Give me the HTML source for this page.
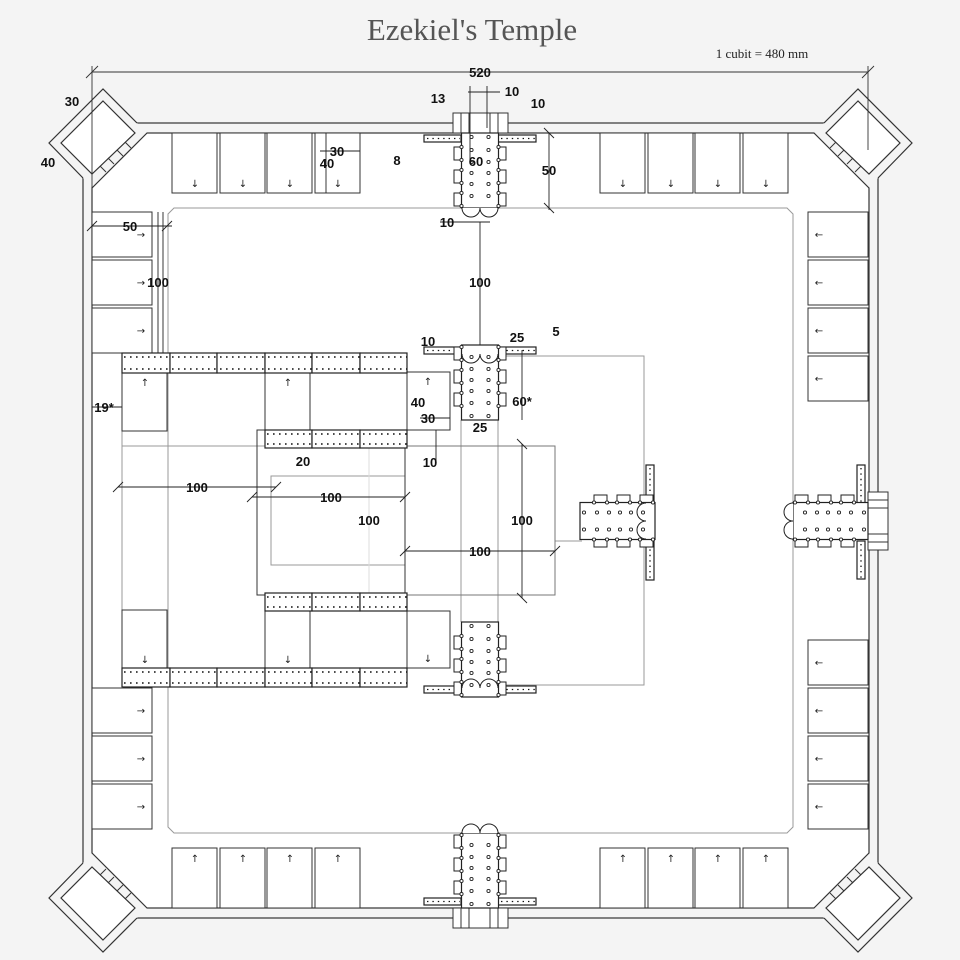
<!DOCTYPE html>
<html><head><meta charset="utf-8"><style>
html,body{margin:0;padding:0;background:#f4f4f4}
svg{display:block}
.t{font-family:"Liberation Sans",sans-serif;font-weight:bold;font-size:13px;fill:#111;text-anchor:middle}
.a{font-family:"DejaVu Sans",sans-serif;font-size:10px;fill:#222;text-anchor:middle}
</style></head><body>
<svg width="960" height="960" viewBox="0 0 960 960" xmlns="http://www.w3.org/2000/svg">
<defs>
<g id="gbody">
<rect x="-26" y="14" width="8" height="13" fill="#fff" stroke="#222"/>
<rect x="-26" y="37" width="8" height="13" fill="#fff" stroke="#222"/>
<rect x="-26" y="60" width="8" height="13" fill="#fff" stroke="#222"/>
<rect x="18" y="14" width="8" height="13" fill="#fff" stroke="#222"/>
<rect x="18" y="37" width="8" height="13" fill="#fff" stroke="#222"/>
<rect x="18" y="60" width="8" height="13" fill="#fff" stroke="#222"/>
<rect x="-18.5" y="0" width="37" height="75" fill="#fff" stroke="#222" stroke-width="1.2"/>
<g fill="#fff" stroke="#222" stroke-width="0.9">
<circle cx="-8.5" cy="4" r="1.6"/><circle cx="8.5" cy="4" r="1.6"/>
<circle cx="-8.5" cy="17" r="1.6"/><circle cx="8.5" cy="17" r="1.6"/>
<circle cx="-8.5" cy="29" r="1.6"/><circle cx="8.5" cy="29" r="1.6"/>
<circle cx="-8.5" cy="40" r="1.6"/><circle cx="8.5" cy="40" r="1.6"/>
<circle cx="-8.5" cy="51" r="1.6"/><circle cx="8.5" cy="51" r="1.6"/>
<circle cx="-8.5" cy="63" r="1.6"/><circle cx="8.5" cy="63" r="1.6"/>
<circle cx="-18.5" cy="14" r="1.6"/><circle cx="18.5" cy="14" r="1.6"/>
<circle cx="-18.5" cy="27" r="1.6"/><circle cx="18.5" cy="27" r="1.6"/>
<circle cx="-18.5" cy="37" r="1.6"/><circle cx="18.5" cy="37" r="1.6"/>
<circle cx="-18.5" cy="50" r="1.6"/><circle cx="18.5" cy="50" r="1.6"/>
<circle cx="-18.5" cy="60" r="1.6"/><circle cx="18.5" cy="60" r="1.6"/>
<circle cx="-18.5" cy="73" r="1.6"/><circle cx="18.5" cy="73" r="1.6"/>
</g>
</g>
<g id="gout"><use href="#gbody"/>
<path d="M-18 75 A9 9 0 0 0 0 75 A9 9 0 0 0 18 75" fill="#fff" stroke="#222"/></g>
<g id="gin"><use href="#gbody"/>
<path d="M-18 66 A9 9 0 0 1 0 66 A9 9 0 0 1 18 66" fill="none" stroke="#222"/></g>
<g id="corner">
<polygon points="83,178 49,143 103,89 137,123 147,133 92,188" fill="#f4f4f4"/>
<polyline points="83,178 49,143 103,89 137,123" fill="none" stroke="#333" stroke-width="1.2"/>
<line x1="147" y1="133" x2="92" y2="188" stroke="#333" stroke-width="1.2"/>
<polygon points="103,101 135,133 92,174 61,143" fill="#fff" stroke="#333" stroke-width="1.2"/>
<g stroke="#333" stroke-width="1"><line x1="100" y1="166" x2="106" y2="172"/><line x1="108" y1="158" x2="114" y2="164"/><line x1="117" y1="150" x2="123" y2="156"/><line x1="125" y1="142" x2="131" y2="148"/></g>
</g>
</defs>

<rect width="960" height="960" fill="#f4f4f4"/>
<text x="472" y="40" font-family="Liberation Serif,serif" font-size="31" fill="#555" text-anchor="middle">Ezekiel's Temple</text>
<text x="762" y="58" font-family="Liberation Serif,serif" font-size="13" fill="#222" text-anchor="middle">1 cubit = 480 mm</text>

<!-- wall -->
<rect x="92" y="133" width="777" height="775" fill="#fff"/>
<rect x="83" y="123" width="795" height="795" fill="none" stroke="#333" stroke-width="1.2"/>
<rect x="92" y="133" width="777" height="775" fill="none" stroke="#333" stroke-width="1.2"/>
<use href="#corner"/>
<use href="#corner" transform="translate(961,0) scale(-1,1)"/>
<use href="#corner" transform="translate(0,1041) scale(1,-1)"/>
<use href="#corner" transform="translate(961,1041) scale(-1,-1)"/>

<!-- top dimension -->
<g stroke="#333" stroke-width="0.9">
<line x1="92" y1="72" x2="868" y2="72"/><line x1="92" y1="66" x2="92" y2="190"/><line x1="868" y1="66" x2="868" y2="150"/>
<line x1="86" y1="78" x2="98" y2="66"/><line x1="862" y1="78" x2="874" y2="66"/>
</g>
<text class="t" x="480" y="77">520</text>

<!-- pavement -->
<path d="M174 208 H787 L793 214 V827 L787 833 H174 L168 827 V214 Z" fill="none" stroke="#999"/>

<!-- outer chambers -->
<g fill="#fff" stroke="#333" stroke-width="1">
<rect x="172" y="133" width="45" height="60"/><rect x="220" y="133" width="45" height="60"/><rect x="267" y="133" width="45" height="60"/><rect x="315" y="133" width="45" height="60"/>
<rect x="600" y="133" width="45" height="60"/><rect x="648" y="133" width="45" height="60"/><rect x="695" y="133" width="45" height="60"/><rect x="743" y="133" width="45" height="60"/>
<rect x="172" y="848" width="45" height="60"/><rect x="220" y="848" width="45" height="60"/><rect x="267" y="848" width="45" height="60"/><rect x="315" y="848" width="45" height="60"/>
<rect x="600" y="848" width="45" height="60"/><rect x="648" y="848" width="45" height="60"/><rect x="695" y="848" width="45" height="60"/><rect x="743" y="848" width="45" height="60"/>
<rect x="92" y="212" width="60" height="45"/><rect x="92" y="260" width="60" height="45"/><rect x="92" y="308" width="60" height="45"/>
<rect x="92" y="688" width="60" height="45"/><rect x="92" y="736" width="60" height="45"/><rect x="92" y="784" width="60" height="45"/>
<rect x="808" y="212" width="60" height="45"/><rect x="808" y="260" width="60" height="45"/><rect x="808" y="308" width="60" height="45"/><rect x="808" y="356" width="60" height="45"/>
<rect x="808" y="640" width="60" height="45"/><rect x="808" y="688" width="60" height="45"/><rect x="808" y="736" width="60" height="45"/><rect x="808" y="784" width="60" height="45"/>
</g>
<g class="a" font-size="12">
<text x="195" y="187">↓</text><text x="243" y="187">↓</text><text x="290" y="187">↓</text><text x="338" y="187">↓</text>
<text x="623" y="187">↓</text><text x="671" y="187">↓</text><text x="718" y="187">↓</text><text x="766" y="187">↓</text>
<text x="195" y="862">↑</text><text x="243" y="862">↑</text><text x="290" y="862">↑</text><text x="338" y="862">↑</text>
<text x="623" y="862">↑</text><text x="671" y="862">↑</text><text x="718" y="862">↑</text><text x="766" y="862">↑</text>
<text x="141" y="238">→</text><text x="141" y="286">→</text><text x="141" y="334">→</text>
<text x="141" y="714">→</text><text x="141" y="762">→</text><text x="141" y="810">→</text>
<text x="819" y="238">←</text><text x="819" y="286">←</text><text x="819" y="334">←</text><text x="819" y="382">←</text>
<text x="819" y="666">←</text><text x="819" y="714">←</text><text x="819" y="762">←</text><text x="819" y="810">←</text>
</g>

<!-- inner court lines -->
<g fill="none" stroke="#999" stroke-width="1">
<path d="M498 356 H644 V685 H498"/>
<line x1="122" y1="446" x2="555" y2="446"/>
<line x1="461" y1="420" x2="461" y2="622"/><line x1="498" y1="420" x2="498" y2="622"/>
<line x1="555" y1="541" x2="582" y2="541"/>
<rect x="271" y="476" width="134" height="89"/>
<line x1="369" y1="446" x2="369" y2="595" stroke="#ddd"/>
</g>
<g fill="none" stroke="#333" stroke-width="1">
<line x1="92" y1="353" x2="122" y2="353"/><line x1="92" y1="688" x2="122" y2="688"/>
<line x1="122" y1="353" x2="122" y2="688" stroke="#999"/>
<rect x="405" y="446" width="150" height="149" stroke="#777"/>
<rect x="257" y="430" width="148" height="165"/>
<path d="M407 372 H450 V430 H407"/><path d="M407 611 H450 V668 H407"/>
</g>
<!-- inner chambers -->
<g fill="#fff" stroke="#333" stroke-width="1">
<rect x="122" y="373" width="45" height="58"/><rect x="265" y="373" width="45" height="57"/><rect x="310" y="373" width="97" height="57"/>
<rect x="122" y="610" width="45" height="58"/><rect x="265" y="611" width="45" height="57"/><rect x="310" y="611" width="97" height="57"/>
</g>
<g class="a" font-size="12"><text x="145" y="386">↑</text><text x="288" y="386">↑</text><text x="428" y="385">↑</text>
<text x="145" y="663">↓</text><text x="288" y="663">↓</text><text x="428" y="662">↓</text></g>
<g stroke="#222" stroke-width="1.2" fill="#fff">
<rect x="122" y="353" width="48" height="20"/><rect x="170" y="353" width="47" height="20"/><rect x="217" y="353" width="48" height="20"/><rect x="265" y="353" width="47" height="20"/><rect x="312" y="353" width="48" height="20"/><rect x="360" y="353" width="47" height="20"/>
<rect x="122" y="668" width="48" height="19"/><rect x="170" y="668" width="47" height="19"/><rect x="217" y="668" width="48" height="19"/><rect x="265" y="668" width="47" height="19"/><rect x="312" y="668" width="48" height="19"/><rect x="360" y="668" width="47" height="19"/>
<rect x="265" y="430" width="47" height="18"/><rect x="312" y="430" width="48" height="18"/><rect x="360" y="430" width="47" height="18"/>
<rect x="265" y="593" width="47" height="18"/><rect x="312" y="593" width="48" height="18"/><rect x="360" y="593" width="47" height="18"/>
<rect x="424" y="135" width="37" height="7"/><rect x="498" y="135" width="38" height="7"/>
<rect x="424" y="347" width="37" height="7"/><rect x="498" y="347" width="38" height="7"/>
<rect x="424" y="686" width="37" height="7"/><rect x="498" y="686" width="38" height="7"/>
<rect x="424" y="898" width="37" height="7"/><rect x="498" y="898" width="38" height="7"/>
<rect x="646" y="465" width="8" height="38"/><rect x="646" y="541" width="8" height="39"/>
<rect x="857" y="465" width="8" height="38"/><rect x="857" y="541" width="8" height="38"/>
</g>
<g stroke="#111" stroke-width="1.6" stroke-dasharray="1.6 4.4" fill="none">
<line x1="124" y1="357" x2="407" y2="357"/><line x1="124" y1="369" x2="407" y2="369"/>
<line x1="124" y1="672" x2="407" y2="672"/><line x1="124" y1="683" x2="407" y2="683"/>
<line x1="267" y1="434" x2="407" y2="434"/><line x1="267" y1="444" x2="407" y2="444"/>
<line x1="267" y1="597" x2="407" y2="597"/><line x1="267" y1="607" x2="407" y2="607"/>
<g stroke-width="1.3" stroke-dasharray="1.4 4">
<line x1="427" y1="138.5" x2="460" y2="138.5"/><line x1="501" y1="138.5" x2="535" y2="138.5"/>
<line x1="427" y1="350.5" x2="460" y2="350.5"/><line x1="501" y1="350.5" x2="535" y2="350.5"/>
<line x1="427" y1="689.5" x2="460" y2="689.5"/><line x1="501" y1="689.5" x2="535" y2="689.5"/>
<line x1="427" y1="901.5" x2="460" y2="901.5"/><line x1="501" y1="901.5" x2="535" y2="901.5"/>
<line x1="650" y1="468" x2="650" y2="502"/><line x1="650" y1="544" x2="650" y2="579"/>
<line x1="861" y1="468" x2="861" y2="502"/><line x1="861" y1="544" x2="861" y2="578"/>
</g>
</g>

<!-- gates -->
<g fill="#fff" stroke="#333" stroke-width="1">
<rect x="453" y="113" width="55" height="20"/><rect x="461" y="113" width="8" height="20"/><rect x="490" y="113" width="8" height="20"/>
<rect x="453" y="908" width="55" height="20"/><rect x="461" y="908" width="8" height="20"/><rect x="490" y="908" width="8" height="20"/>
<rect x="868" y="492" width="20" height="58"/><rect x="868" y="500" width="20" height="8"/><rect x="868" y="534" width="20" height="8"/>
</g>
<use href="#gout" transform="translate(480,133)"/>
<use href="#gout" transform="translate(480,908) scale(1,-1)"/>
<use href="#gout" transform="translate(868,521) rotate(90)"/>
<use href="#gin" transform="translate(480,420) scale(1,-1)"/>
<use href="#gin" transform="translate(480,622)"/>
<use href="#gin" transform="translate(580,521) rotate(-90)"/>

<!-- dimension lines -->
<g stroke="#222" stroke-width="0.9" fill="none">
<line x1="118" y1="487" x2="276" y2="487"/><line x1="113" y1="492" x2="123" y2="482"/><line x1="271" y1="492" x2="281" y2="482"/>
<line x1="252" y1="497" x2="405" y2="497"/><line x1="247" y1="502" x2="257" y2="492"/><line x1="400" y1="502" x2="410" y2="492"/>
<line x1="405" y1="551" x2="555" y2="551"/><line x1="400" y1="556" x2="410" y2="546"/><line x1="550" y1="556" x2="560" y2="546"/>
<line x1="522" y1="444" x2="522" y2="598"/><line x1="517" y1="439" x2="527" y2="449"/><line x1="517" y1="593" x2="527" y2="603"/>
<line x1="480" y1="222" x2="480" y2="345"/>
<line x1="549" y1="133" x2="549" y2="210"/><line x1="544" y1="128" x2="554" y2="138"/><line x1="544" y1="203" x2="554" y2="213"/>
<line x1="522" y1="350" x2="522" y2="420"/>
<line x1="158" y1="212" x2="158" y2="353"/><line x1="163" y1="212" x2="163" y2="353"/>
<line x1="92" y1="226" x2="172" y2="226"/><line x1="87" y1="231" x2="97" y2="221"/><line x1="162" y1="231" x2="172" y2="221"/>
<line x1="320" y1="151" x2="360" y2="151"/><line x1="326" y1="133" x2="326" y2="193"/>
<line x1="92" y1="407" x2="122" y2="407"/>
<line x1="440" y1="222" x2="490" y2="222"/><line x1="468" y1="92" x2="500" y2="92"/>
<line x1="470" y1="86" x2="470" y2="160"/><line x1="487" y1="86" x2="487" y2="128"/>
<line x1="420" y1="418" x2="450" y2="418"/><line x1="436" y1="430" x2="436" y2="462"/>
</g>
<g class="t">
<text x="72" y="106">30</text><text x="48" y="167">40</text>
<text x="438" y="103">13</text><text x="512" y="96">10</text><text x="538" y="108">10</text>
<text x="397" y="165">8</text><text x="337" y="156">30</text><text x="327" y="168">40</text>
<text x="476" y="166">60</text><text x="549" y="175">50</text><text x="447" y="227">10</text>
<text x="130" y="231">50</text><text x="158" y="287">100</text><text x="480" y="287">100</text>
<text x="428" y="346">10</text><text x="517" y="342">25</text><text x="556" y="336">5</text>
<text x="104" y="412">19*</text><text x="418" y="407">40</text><text x="428" y="423">30</text>
<text x="522" y="406">60*</text><text x="480" y="432">25</text><text x="303" y="466">20</text><text x="430" y="467">10</text>
<text x="197" y="492">100</text><text x="331" y="502">100</text><text x="369" y="525">100</text>
<text x="522" y="525">100</text><text x="480" y="556">100</text>
</g>
</svg>
</body></html>
